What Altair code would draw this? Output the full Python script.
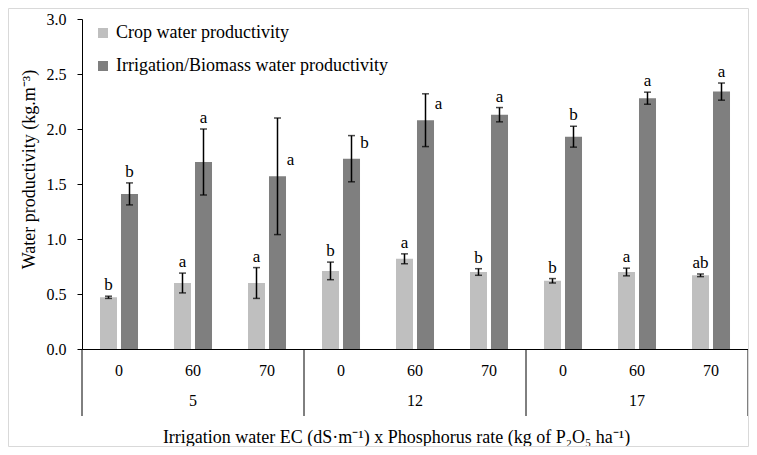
import altair as alt
import pandas as pd

# ---------------- data ----------------
ec_levels = ["5", "12", "17"]
p_levels = ["0", "60", "70"]
series_names = ["Crop water productivity", "Irrigation/Biomass water productivity"]
series_colors = ["#bfbfbf", "#7f7f7f"]

crop_mean = [0.47, 0.60, 0.60, 0.71, 0.82, 0.70, 0.62, 0.70, 0.67]
crop_err = [0.01, 0.09, 0.14, 0.08, 0.045, 0.03, 0.02, 0.035, 0.012]
irr_mean = [1.41, 1.70, 1.57, 1.73, 2.08, 2.13, 1.93, 2.28, 2.34]
irr_err = [0.10, 0.30, 0.53, 0.21, 0.24, 0.065, 0.095, 0.055, 0.078]
crop_letters = ["b", "a", "a", "b", "a", "b", "b", "a", "ab"]
irr_letters = ["b", "a", "a", "b", "a", "a", "b", "a", "a"]
irr_letter_side = ["top", "top", "right", "right", "right", "top", "top", "top", "top"]
y_ticks = [0, 0.5, 1.0, 1.5, 2.0, 2.5, 3.0]

keys = [f"{e}|{p}" for e in ec_levels for p in p_levels]

rows = []
for i, k in enumerate(keys):
    rows.append(dict(key=k, series=series_names[0], mean=crop_mean[i],
                     lo=crop_mean[i] - crop_err[i], hi=crop_mean[i] + crop_err[i],
                     letter=crop_letters[i], side="top"))
    rows.append(dict(key=k, series=series_names[1], mean=irr_mean[i],
                     lo=irr_mean[i] - irr_err[i], hi=irr_mean[i] + irr_err[i],
                     letter=irr_letters[i], side=irr_letter_side[i]))
df = pd.DataFrame(rows)

groups_df = pd.DataFrame({"ec": ec_levels, "key": [f"{e}|{p_levels[1]}" for e in ec_levels]})
sep_df = pd.DataFrame({"key": [f"{e}|{p_levels[0]}" for e in ec_levels]})
end_df = pd.DataFrame({"key": [keys[-1]]})

FONT = "Liberation Serif"
W, H = 666, 330

x_scale = alt.Scale(domain=keys, paddingInner=0, paddingOuter=0)
xoff = alt.XOffset("series:N", sort=series_names,
                   scale=alt.Scale(domain=series_names, paddingInner=0.19, paddingOuter=0.857))
y_scale = alt.Scale(domain=[0, 3], nice=False)

x_axis = alt.Axis(labelExpr="split(datum.value, '|')[1]", labelAngle=0, ticks=False,
                  domainColor="#000000", domainWidth=1, labelFont=FONT, labelFontSize=16,
                  labelColor="#000000", labelPadding=13,
                  title="Irrigation water EC (dS·m⁻¹) x Phosphorus rate (kg of P₂O₅ ha⁻¹)",
                  titleFont=FONT, titleFontSize=18, titleFontWeight="normal",
                  titleColor="#000000", titleY=88, titleX=314, titleBaseline="middle",
                  titleAlign="center")
y_axis = alt.Axis(values=y_ticks, format=".1f", grid=False, tickSize=5,
                  tickColor="#000000", domainColor="#000000", labelFont=FONT,
                  labelFontSize=16, labelColor="#000000", labelPadding=11,
                  title="Water productivity (kg.m⁻³)", titleFont=FONT,
                  titleFontSize=18, titleFontWeight="normal", titleColor="#000000",
                  titleX=-53, titleY=150, titleBaseline="middle", titleAlign="center")


def X(**kw):
    return alt.X("key:N", scale=x_scale, sort=keys, axis=x_axis, **kw)


def Y(field):
    return alt.Y(field, scale=y_scale, axis=y_axis)


base = alt.Chart(df)

bars = base.mark_bar().encode(
    x=X(),
    xOffset=xoff,
    y=Y("mean:Q"),
    color=alt.Color("series:N", scale=alt.Scale(domain=series_names, range=series_colors),
                    legend=alt.Legend(title=None, orient="none", legendX=12, legendY=5,
                                      symbolType="square", symbolSize=100, symbolStrokeWidth=0,
                                      labelFont=FONT, labelFontSize=18, labelColor="#000000",
                                      labelLimit=0, rowPadding=15, labelOffset=4, padding=0)),
)

err_rule = base.mark_rule(color="#000000", strokeWidth=1.5).encode(
    x=X(), xOffset=xoff, y=Y("lo:Q"), y2="hi:Q",
)
cap_top = base.mark_tick(color="#000000", thickness=1.5, size=7, orient="horizontal").encode(
    x=X(), xOffset=xoff, y=Y("hi:Q"),
)
cap_bot = base.mark_tick(color="#000000", thickness=1.5, size=7, orient="horizontal").encode(
    x=X(), xOffset=xoff, y=Y("lo:Q"),
)

letters_top = base.transform_filter(alt.datum.side == "top").mark_text(
    font=FONT, fontSize=17, color="#000000", baseline="bottom", dy=-2
).encode(
    x=X(), xOffset=xoff, y=Y("hi:Q"), text="letter:N",
)
letters_right = base.transform_filter(alt.datum.side == "right").mark_text(
    font=FONT, fontSize=17, color="#000000", baseline="middle", dx=13, dy=-16
).encode(
    x=X(), xOffset=xoff, y=Y("mean:Q"), text="letter:N",
)

group_labels = alt.Chart(groups_df).mark_text(
    font=FONT, fontSize=16, color="#000000", baseline="middle"
).encode(
    x=X(),
    y=alt.value(H + 52),
    text="ec:N",
)

separators = alt.Chart(sep_df).mark_rule(color="#000000", strokeWidth=1).encode(
    x=X(bandPosition=0),
    y=alt.value(H),
    y2=alt.value(H + 67),
)
end_sep = alt.Chart(end_df).mark_rule(color="#000000", strokeWidth=1).encode(
    x=X(bandPosition=1),
    y=alt.value(H),
    y2=alt.value(H + 67),
)

frame = alt.Chart(end_df).mark_rect(fill=None, stroke="#d9d9d9", strokeWidth=1).encode(
    x=alt.value(-73.5), x2=alt.value(W + 0.5), y=alt.value(-10.5), y2=alt.value(H + 97.5)
)

chart = alt.layer(
    bars, err_rule, cap_top, cap_bot, letters_top, letters_right,
    group_labels, separators, end_sep, frame
).properties(
    width=W, height=H,
    autosize=alt.AutoSizeParams(type="none"),
    padding={"left": 74, "top": 11, "right": 1, "bottom": 98},
    background="#ffffff",
).configure_view(stroke=None).configure_axis(
    labelFont=FONT, titleFont=FONT
).configure_legend(labelFont=FONT).configure_text(font=FONT)

chart.save("out.html", embed_options={"renderer": "svg", "actions": False})
